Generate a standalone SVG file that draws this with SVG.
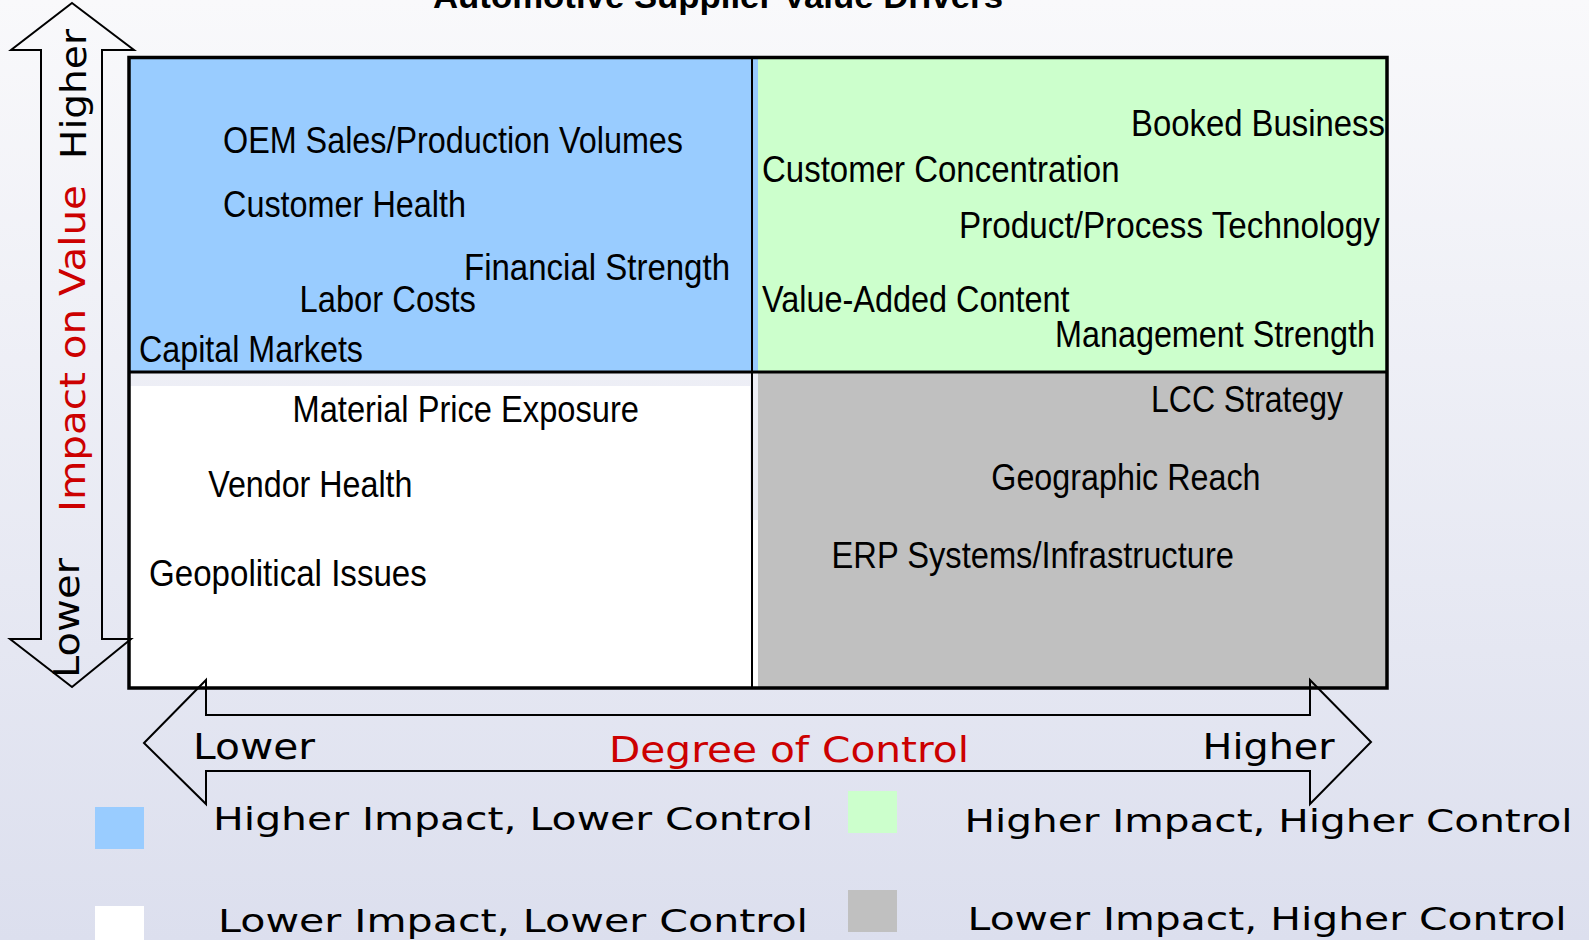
<svg xmlns="http://www.w3.org/2000/svg" width="1589" height="940" viewBox="0 0 1589 940">
  <defs>
    <linearGradient id="bg" gradientUnits="userSpaceOnUse" x1="0" y1="0" x2="0" y2="940">
      <stop offset="0" stop-color="#f9f9fb"/>
      <stop offset="1" stop-color="#dcdfee"/>
    </linearGradient>
    <style>
      .q { font-family: "Liberation Sans Narrow", "Liberation Sans", Arial, sans-serif; font-size: 36px; fill: #000; }
      .title { font-family: "Liberation Sans", Arial, sans-serif; font-size: 34px; font-weight: bold; fill: #000; }
      .ax { font-family: "DejaVu Sans", Verdana, sans-serif; font-size: 36px; fill: #000; }
      .red { fill: #cc0000; }
      .lg { font-family: "DejaVu Sans", Verdana, sans-serif; font-size: 32px; fill: #000; }
      .arrow { fill: none; stroke: #000; stroke-width: 2; stroke-linejoin: miter; }
      .frame { fill: none; stroke: #000; stroke-width: 3.5; }
    </style>
  </defs>

  <!-- page background -->
  <rect x="0" y="0" width="1589" height="940" fill="url(#bg)"/>

  <!-- chart title -->
  <text class="title" x="433" y="8" textLength="570" lengthAdjust="spacingAndGlyphs">Automotive Supplier Value Drivers</text>

  <!-- quadrant: higher impact, lower control -->
  <g id="quad-high-impact-low-control">
    <rect x="130" y="58" width="628" height="314" fill="#99ccff"/>
    <text class="q" x="223" y="152.7" textLength="460" lengthAdjust="spacingAndGlyphs">OEM Sales/Production Volumes</text>
    <text class="q" x="223" y="217.3" textLength="243" lengthAdjust="spacingAndGlyphs">Customer Health</text>
    <text class="q" x="464" y="280" textLength="266" lengthAdjust="spacingAndGlyphs">Financial Strength</text>
    <text class="q" x="299.5" y="311.7" textLength="176.5" lengthAdjust="spacingAndGlyphs">Labor Costs</text>
    <text class="q" x="139" y="361.7" textLength="224" lengthAdjust="spacingAndGlyphs">Capital Markets</text>
  </g>

  <!-- quadrant: higher impact, higher control -->
  <g id="quad-high-impact-high-control">
    <rect x="758" y="58" width="628" height="314" fill="#ccffcc"/>
    <text class="q" x="1131" y="136" textLength="254" lengthAdjust="spacingAndGlyphs">Booked Business</text>
    <text class="q" x="762" y="181.7" textLength="357.5" lengthAdjust="spacingAndGlyphs">Customer Concentration</text>
    <text class="q" x="959" y="238.3" textLength="421" lengthAdjust="spacingAndGlyphs">Product/Process Technology</text>
    <text class="q" x="762" y="311.7" textLength="307.5" lengthAdjust="spacingAndGlyphs">Value-Added Content</text>
    <text class="q" x="1055" y="346.7" textLength="320" lengthAdjust="spacingAndGlyphs">Management Strength</text>
  </g>

  <!-- quadrant: lower impact, lower control -->
  <g id="quad-low-impact-low-control">
    <rect x="130" y="386" width="628" height="302" fill="#ffffff"/>
    <rect x="750" y="372" width="8" height="148" fill="url(#bg)"/>
    <text class="q" x="292.5" y="421.7" textLength="346.5" lengthAdjust="spacingAndGlyphs">Material Price Exposure</text>
    <text class="q" x="208.2" y="496.7" textLength="204.3" lengthAdjust="spacingAndGlyphs">Vendor Health</text>
    <text class="q" x="149" y="586" textLength="277.8" lengthAdjust="spacingAndGlyphs">Geopolitical Issues</text>
  </g>

  <!-- quadrant: lower impact, higher control -->
  <g id="quad-low-impact-high-control">
    <rect x="758" y="372" width="628" height="316" fill="#c0c0c0"/>
    <text class="q" x="1151" y="411.7" textLength="192" lengthAdjust="spacingAndGlyphs">LCC Strategy</text>
    <text class="q" x="991.3" y="490" textLength="269.2" lengthAdjust="spacingAndGlyphs">Geographic Reach</text>
    <text class="q" x="831.5" y="568.3" textLength="402.5" lengthAdjust="spacingAndGlyphs">ERP Systems/Infrastructure</text>
  </g>

  <!-- grid frame and dividers -->
  <g id="grid">
    <line x1="752" y1="58" x2="752" y2="688" stroke="#000" stroke-width="2"/>
    <line x1="130" y1="372" x2="1387" y2="372" stroke="#000" stroke-width="3"/>
    <rect class="frame" x="129" y="57.5" width="1258" height="630.5"/>
  </g>

  <!-- axis arrows -->
  <g id="axes">
    <path id="axis-impact" class="arrow" d="M72,3 L134,50 L102,50 L102,639 L131,639 L72,687 L10,639 L41,639 L41,50 L11,50 Z"/>
    <path id="axis-control" class="arrow" d="M144,743 L206,680 L206,715 L1310,715 L1310,680 L1371,742 L1310,804 L1310,771 L206,771 L206,804 Z"/>
  </g>

  <!-- axis labels -->
  <g id="axis-labels">
    <text class="ax" transform="translate(86,159) rotate(-90)" textLength="130" lengthAdjust="spacingAndGlyphs">Higher</text>
    <text class="ax red" transform="translate(85,512) rotate(-90)" textLength="327" lengthAdjust="spacingAndGlyphs">Impact on Value</text>
    <text class="ax" transform="translate(79,678) rotate(-90)" textLength="120" lengthAdjust="spacingAndGlyphs">Lower</text>
    <text class="ax" x="193" y="759.3" textLength="122" lengthAdjust="spacingAndGlyphs">Lower</text>
    <text class="ax red" x="609" y="761.5" textLength="360" lengthAdjust="spacingAndGlyphs">Degree of Control</text>
    <text class="ax" x="1202.6" y="759.3" textLength="132" lengthAdjust="spacingAndGlyphs">Higher</text>
  </g>

  <!-- legend -->
  <g id="legend">
    <g id="legend-blue">
      <rect x="95" y="807" width="49" height="42" fill="#99ccff"/>
      <text class="lg" x="213" y="830" textLength="600" lengthAdjust="spacingAndGlyphs">Higher Impact, Lower Control</text>
    </g>
    <g id="legend-white">
      <rect x="95" y="906" width="49" height="42" fill="#ffffff"/>
      <text class="lg" x="218" y="931.5" textLength="590" lengthAdjust="spacingAndGlyphs">Lower Impact, Lower Control</text>
    </g>
    <g id="legend-green">
      <rect x="848" y="791" width="49" height="42" fill="#ccffcc"/>
      <text class="lg" x="964.6" y="831.7" textLength="608" lengthAdjust="spacingAndGlyphs">Higher Impact, Higher Control</text>
    </g>
    <g id="legend-gray">
      <rect x="848" y="890" width="49" height="42" fill="#c0c0c0"/>
      <text class="lg" x="967.6" y="930" textLength="599" lengthAdjust="spacingAndGlyphs">Lower Impact, Higher Control</text>
    </g>
  </g>
</svg>
